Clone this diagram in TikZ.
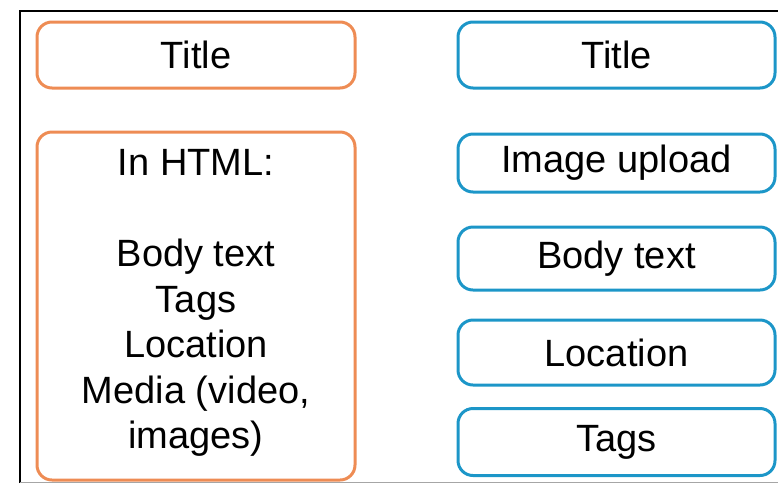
\documentclass[tikz,border=0pt]{standalone}
\usepackage{fontspec}
\setmainfont{Liberation Sans}
\definecolor{boxorange}{RGB}{238,140,84}
\definecolor{boxblue}{RGB}{28,150,200}
\tikzset{
  obox/.style={draw=boxorange, line width=3pt, rounded corners=15pt, minimum width=318pt, inner sep=0pt, font=\fontsize{38}{45.5}\selectfont},
  bbox/.style={draw=boxblue, line width=3pt, rounded corners=15pt, minimum width=317pt, inner sep=0pt, font=\fontsize{38}{45.5}\selectfont},
  txt/.style={align=center, inner sep=0pt, font=\fontsize{38}{45.5}\selectfont}
}
\begin{document}
\begin{tikzpicture}[x=1pt,y=-1pt]
\useasboundingbox (0,0) rectangle (778,483);
\coordinate (tl) at (20,11);
\coordinate (tr) at (778,11);
\coordinate (bl) at (20,483);
\coordinate (gl) at (20,482);
\coordinate (gr) at (778,482);
\draw[line width=2pt] (bl) -- (tl) -- (tr);
\draw[line width=1pt, gray!70] (gl) -- (gr);
% left column
\node[obox, minimum height=66pt] (ltitle) at (196,55) {Title};
\node[obox, minimum height=348pt] (lbody) at (196,306) {};
\node[txt] (ltext) at (196,303) {In HTML:\\\mbox{}\\Body text\\Tags\\Location\\Media (video,\\images)};
% right column
\node[bbox, minimum height=66pt] (rtitle) at (616.5,55) {Title};
\node[bbox, minimum height=58pt] (rimage) at (616.5,163) {Image upload};
\node[bbox, minimum height=63pt] (rbody) at (616.5,258.5) {Body text};
\node[bbox, minimum height=65pt] (rloc) at (616.5,352.5) {Location};
\node[bbox, minimum height=67pt] (rtags) at (616.5,442) {Tags};
\end{tikzpicture}
\end{document}
